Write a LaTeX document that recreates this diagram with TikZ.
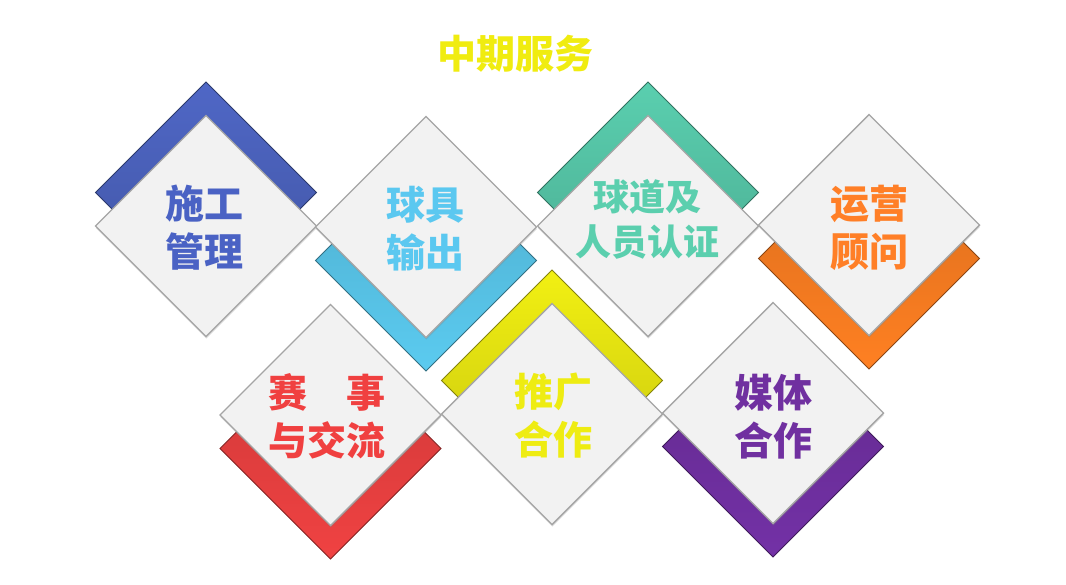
\documentclass[tikz,border=0pt]{standalone}
\usepackage{fontspec}
\newfontfamily\cjk[BoldFont={Noto Sans CJK SC Black}]{Noto Sans CJK SC}
\usetikzlibrary{shadows}
\definecolor{cblue}{HTML}{4F67C6}
\definecolor{clblue}{HTML}{5BCBF0}
\definecolor{cteal}{HTML}{5ACFAF}
\definecolor{corange}{HTML}{FF8022}
\definecolor{cred}{HTML}{F04242}
\definecolor{cyellow}{HTML}{F2F012}
\definecolor{cpurple}{HTML}{7331A6}
\definecolor{tblue}{HTML}{4A62C4}
\definecolor{tlblue}{HTML}{5BC8F0}
\definecolor{tteal}{HTML}{5BCFAE}
\definecolor{torange}{HTML}{FF7F27}
\definecolor{tred}{HTML}{F04040}
\definecolor{tyellow}{HTML}{EEEC12}
\definecolor{tpurple}{HTML}{7030A0}
\definecolor{ttitle}{HTML}{F0EC10}
\definecolor{cardgray}{HTML}{F2F2F2}
\definecolor{cardedge}{HTML}{A5A5A5}
\tikzset{
  chevup/.style={top color=#1, bottom color=#1!82!black, draw=#1!55!black, line width=0.8pt},
  chevdown/.style={top color=#1!85!black, bottom color=#1, draw=#1!55!black, line width=0.8pt},
  card/.style={fill=cardgray, draw=cardedge, line width=1.4pt,
    drop shadow={opacity=0.3, shadow xshift=0.4pt, shadow yshift=-2pt}},
  lab/.style={font=\cjk\bfseries\fontsize{39}{48}\selectfont, align=center, inner sep=0pt},
  labs/.style={font=\cjk\bfseries\fontsize{36}{45}\selectfont, align=center, inner sep=0pt},
  ttl/.style={font=\cjk\bfseries\fontsize{39}{46}\selectfont, inner sep=0pt, text=ttitle},
}
\begin{document}
\begin{tikzpicture}[x=1pt,y=-1pt]
\fill[white] (0,0) rectangle (1066,584);
\useasboundingbox (0,0) rectangle (1066,584);
% chevrons (shifted diamonds behind the cards)
\foreach \cx/\cy/\col/\d in {206/226/cblue/-1, 648/226/cteal/-1, 552/414/cyellow/-1}{
  \path[chevup=\col] (\cx-110.5,\cy+\d*33.5) -- (\cx,\cy+\d*33.5-110.5) -- (\cx+110.5,\cy+\d*33.5) -- (\cx,\cy+\d*33.5+110.5) -- cycle;
}
\foreach \cx/\cy/\col/\d in {426/227/clblue/1, 869/225/corange/1, 330.5/415/cred/1, 773/413/cpurple/1}{
  \path[chevdown=\col] (\cx-110.5,\cy+\d*33.5) -- (\cx,\cy+\d*33.5-110.5) -- (\cx+110.5,\cy+\d*33.5) -- (\cx,\cy+\d*33.5+110.5) -- cycle;
}
% cards
\foreach \cx/\cy in {206/226, 426/227, 648/226, 869/225, 330.5/415, 552/414, 773/413}{
  \path[card] (\cx-110.5,\cy) -- (\cx,\cy-110.5) -- (\cx+110.5,\cy) -- (\cx,\cy+110.5) -- cycle;
}
% texts
\node[ttl] (title) at (515,54) {中期服务};
\node[lab, text=tblue] (t1) at (204,228) {施工\\管理};
\node[lab, text=tlblue] (t2) at (425.5,228.5) {球具\\输出};
\node[labs, text=tteal] (t3) at (647,219) {球道及\\人员认证};
\node[lab, text=torange] (t4) at (869,228) {运营\\顾问};
\node[lab, text=tred] (t5) at (327,416) {赛　事\\与交流};
\node[lab, text=tyellow] (t6) at (553,415.5) {推广\\合作};
\node[lab, text=tpurple] (t7) at (773.5,416.5) {媒体\\合作};
\end{tikzpicture}
\end{document}
